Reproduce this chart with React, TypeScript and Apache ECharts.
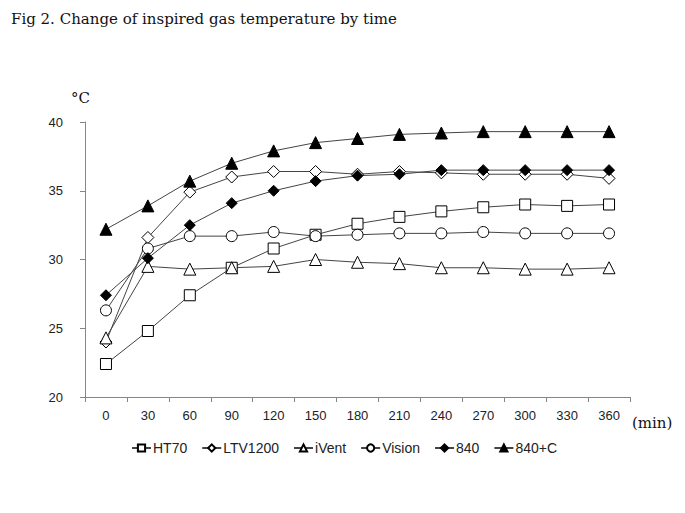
import React, { useEffect, useRef } from "react";
import * as echarts from "echarts";

const categories = ["0", "30", "60", "90", "120", "150", "180", "210", "240", "270", "300", "330", "360"];
const ht70 = [22.4, 24.8, 27.4, 29.4, 30.8, 31.8, 32.6, 33.1, 33.5, 33.8, 34.0, 33.9, 34.0];
const ltv1200 = [24.0, 31.6, 34.9, 36.0, 36.4, 36.4, 36.2, 36.4, 36.3, 36.2, 36.2, 36.2, 35.9];
const ivent = [24.3, 29.5, 29.3, 29.4, 29.5, 30.0, 29.8, 29.7, 29.4, 29.4, 29.3, 29.3, 29.4];
const vision = [26.3, 30.8, 31.7, 31.7, 32.0, 31.7, 31.8, 31.9, 31.9, 32.0, 31.9, 31.9, 31.9];
const s840 = [27.4, 30.1, 32.5, 34.1, 35.0, 35.7, 36.1, 36.2, 36.5, 36.5, 36.5, 36.5, 36.5];
const s840c = [32.2, 33.9, 35.7, 37.0, 37.9, 38.5, 38.8, 39.1, 39.2, 39.3, 39.3, 39.3, 39.3];
const seriesNames = ["HT70", "LTV1200", "iVent", "Vision", "840", "840+C"];

export default function App() {
  const ref = useRef<HTMLDivElement>(null);
  useEffect(() => {
    if (!ref.current) return;
    const chart = echarts.init(ref.current, null, { renderer: "svg" });
    const mk = (name: string, data: number[], symbol: string, size: number, filled: boolean) => ({
      name,
      type: "line",
      data,
      symbol,
      symbolSize: size,
      showAllSymbol: true,
      lineStyle: { color: "#444", width: 1 },
      itemStyle: { color: filled ? "#000" : "#fff", borderColor: "#000", borderWidth: 1 },
      emphasis: { disabled: true },
    });
    chart.setOption({
      animation: false,
      backgroundColor: "#fff",
      title: {
        text: "Fig 2. Change of inspired gas temperature by time",
        left: 6,
        top: 6,
        textStyle: { fontFamily: "DejaVu Serif", fontSize: 15, fontWeight: "normal", color: "#111" },
      },
      grid: { left: 85, top: 122, right: 55, bottom: 116, containLabel: false },
      legend: {
        left: 126,
        top: 436,
        itemWidth: 19,
        itemHeight: 9,
        itemGap: 14,
        textStyle: { fontFamily: "Liberation Sans", fontSize: 14, color: "#222", padding: [0, 0, 0, -3] },
        data: seriesNames,
      },
      xAxis: {
        type: "category",
        data: categories,
        boundaryGap: true,
        axisLine: { lineStyle: { color: "#868686" } },
        axisTick: { show: true, lineStyle: { color: "#868686" }, length: 5 },
        axisLabel: { fontFamily: "Liberation Sans", fontSize: 13, color: "#222", margin: 12 },
      },
      yAxis: {
        type: "value",
        min: 20,
        max: 40,
        interval: 5,
        splitLine: { show: false },
        axisLine: { show: true, lineStyle: { color: "#868686" } },
        axisTick: { show: true, lineStyle: { color: "#868686" }, length: 5 },
        axisLabel: { fontFamily: "Liberation Sans", fontSize: 13, color: "#222", margin: 22 },
      },
      graphic: [
        { type: "text", left: 71, top: 90, style: { text: "°C", font: "15px 'DejaVu Serif'", fill: "#111" } },
        { type: "text", left: 632, top: 415, style: { text: "(min)", font: "15px 'DejaVu Serif'", fill: "#111" } },
      ],
      series: [
        mk(seriesNames[0], ht70, "rect", 11, false),
        mk(seriesNames[1], ltv1200, "diamond", 12, false),
        mk(seriesNames[2], ivent, "triangle", 12, false),
        mk(seriesNames[3], vision, "circle", 11, false),
        mk(seriesNames[4], s840, "diamond", 11, true),
        mk(seriesNames[5], s840c, "triangle", 12, true),
      ],
    });
    return () => chart.dispose();
  }, []);
  return <div ref={ref} style={{ position: "fixed", left: 0, top: 0, width: 685, height: 513 }} />;
}
